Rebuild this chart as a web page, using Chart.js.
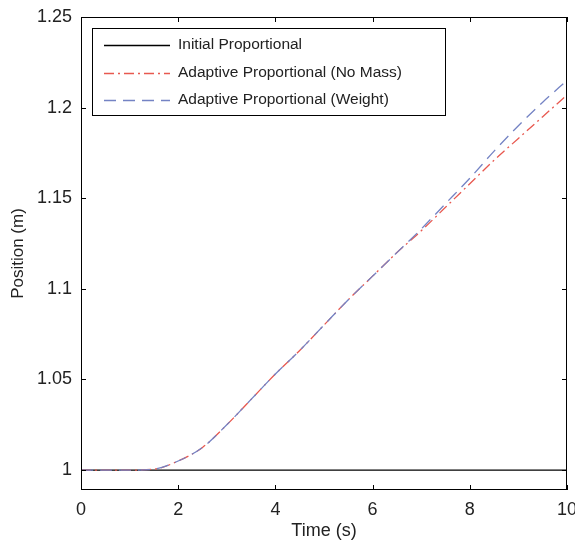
<!DOCTYPE html>
<html>
<head>
<meta charset="utf-8">
<script src="https://cdn.jsdelivr.net/npm/chart.js@4/dist/chart.umd.min.js"></script>
<style>
  html, body { margin: 0; padding: 0; background: #fff; }
  #wrap { width: 575px; height: 542px; }
</style>
</head>
<body>
<div id="wrap"><canvas id="chart" width="575" height="542"></canvas></div>
<script>
const timeSteps = [0, 0.5, 1, 1.5, 2, 2.5, 3, 3.5, 4, 4.5, 5, 5.5, 6, 6.5, 7, 7.5, 8, 8.5, 9, 9.5, 10];
const initialProp = [1, 1, 1, 1, 1, 1, 1, 1, 1, 1, 1, 1, 1, 1, 1, 1, 1, 1, 1, 1, 1];
const adaptiveNoMass = [1, 1, 1, 1.0005, 1.005, 1.0125, 1.025, 1.039, 1.053, 1.066, 1.080, 1.094, 1.107, 1.120, 1.132, 1.145, 1.158, 1.171, 1.183, 1.195, 1.207];
const adaptiveWeight = [1, 1, 1, 1.0005, 1.005, 1.0125, 1.025, 1.039, 1.053, 1.066, 1.080, 1.094, 1.107, 1.120, 1.133, 1.147, 1.161, 1.176, 1.190, 1.203, 1.215];
const xTicks = [0, 2, 4, 6, 8, 10];
const yTicks = [1, 1.05, 1.1, 1.15, 1.2, 1.25];
const seriesNames = ["Initial Proportional", "Adaptive Proportional (No Mass)", "Adaptive Proportional (Weight)"];

const FONT = "'Liberation Sans', Arial, sans-serif";
const RED = "#e8584f";
const BLUE = "#7483c4";

function toPoints(values) {
  return timeSteps.map((t, i) => ({ x: t, y: values[i] }));
}

const frame = {
  id: "frame",
  afterDraw(chart) {
    const { ctx, chartArea: a, scales } = chart;
    ctx.save();
    ctx.strokeStyle = "#000";
    ctx.lineWidth = 1;
    ctx.strokeRect(a.left + 0.5, a.top + 0.5, a.right - a.left - 1, a.bottom - a.top - 1);
    ctx.beginPath();
    xTicks.forEach((v) => {
      const px = Math.round(scales.x.getPixelForValue(v)) + 0.5;
      ctx.moveTo(px, a.bottom); ctx.lineTo(px, a.bottom - 5);
      ctx.moveTo(px, a.top); ctx.lineTo(px, a.top + 5);
    });
    yTicks.forEach((v) => {
      const py = Math.round(scales.y.getPixelForValue(v)) + 0.5;
      ctx.moveTo(a.left, py); ctx.lineTo(a.left + 5, py);
      ctx.moveTo(a.right, py); ctx.lineTo(a.right - 5, py);
    });
    ctx.stroke();

    // legend box
    const bx = 92.5, by = 28.5, bw = 353, bh = 87;
    ctx.fillStyle = "#fff";
    ctx.fillRect(bx, by, bw, bh);
    ctx.strokeRect(bx, by, bw, bh);
    const styles = [
      { color: "#000", dash: [], width: 1.3 },
      { color: RED, dash: [10, 4, 2, 4], width: 1.3 },
      { color: BLUE, dash: [12, 7], width: 1.3 },
    ];
    const rows = [45, 73, 100];
    ctx.font = "15.5px " + FONT;
    ctx.textBaseline = "middle";
    seriesNames.forEach((name, i) => {
      ctx.setLineDash(styles[i].dash);
      ctx.strokeStyle = styles[i].color;
      ctx.lineWidth = styles[i].width;
      ctx.beginPath();
      ctx.moveTo(104, rows[i] + 0.5);
      ctx.lineTo(170, rows[i] + 0.5);
      ctx.stroke();
      ctx.fillStyle = "#222";
      ctx.fillText(name, 178, rows[i]);
    });
    ctx.restore();
  },
};

new Chart(document.getElementById("chart").getContext("2d"), {
  type: "line",
  data: {
    datasets: [
      {
        label: seriesNames[0],
        data: toPoints(initialProp),
        borderColor: "#000",
        borderWidth: 1.3,
        pointRadius: 0,
        order: 3,
      },
      {
        label: seriesNames[1],
        data: toPoints(adaptiveNoMass),
        borderColor: RED,
        borderWidth: 1.3,
        borderDash: [10, 4, 2, 4],
        pointRadius: 0,
        cubicInterpolationMode: "monotone",
        order: 2,
      },
      {
        label: seriesNames[2],
        data: toPoints(adaptiveWeight),
        borderColor: BLUE,
        borderWidth: 1.3,
        borderDash: [12, 7],
        pointRadius: 0,
        cubicInterpolationMode: "monotone",
        order: 1,
      },
    ],
  },
  options: {
    responsive: false,
    animation: false,
    layout: { padding: { top: 17, right: 8, left: 0, bottom: 0 } },
    plugins: { legend: { display: false }, tooltip: { enabled: false } },
    scales: {
      x: {
        type: "linear",
        min: 0,
        max: 10,
        afterBuildTicks: (s) => { s.ticks = xTicks.map((v) => ({ value: v })); },
        afterFit: (s) => { s.height = 52; s.paddingLeft = 0; s.paddingRight = 0; },
        grid: { display: false },
        border: { display: false },
        ticks: { color: "#222", font: { family: FONT, size: 18 }, padding: 1, maxRotation: 0 },
        title: { display: true, text: "Time (s)", color: "#222", font: { family: FONT, size: 18 }, padding: { top: 2, bottom: 0 } },
      },
      y: {
        min: 0.989,
        max: 1.25,
        afterBuildTicks: (s) => { s.ticks = yTicks.map((v) => ({ value: v })); },
        afterFit: (s) => { s.width = 81; s.paddingTop = 0; s.paddingBottom = 0; },
        grid: { display: false },
        border: { display: false },
        ticks: { color: "#222", font: { family: FONT, size: 18 }, padding: 1, callback: (v) => String(+v.toFixed(2)) },
        title: { display: true, text: "Position (m)", color: "#222", font: { family: FONT, size: 17 }, padding: { top: 8, bottom: 0 } },
      },
    },
  },
  plugins: [frame],
});
</script>
</body>
</html>
